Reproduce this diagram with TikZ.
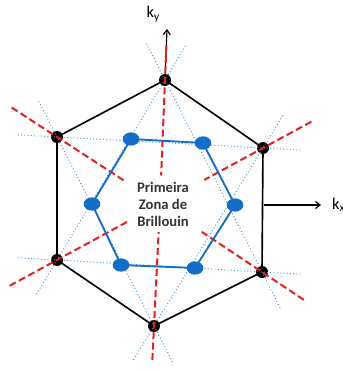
\documentclass[tikz,border=0pt]{standalone}
\usepackage{fontspec}
\setmainfont{Carlito}
\usetikzlibrary{shapes.geometric, arrows.meta, calc}

\definecolor{zoneblue}{RGB}{20,110,200}
\definecolor{dotblue}{RGB}{70,150,205}
\definecolor{cutred}{RGB}{230,30,30}

\begin{document}
\begin{tikzpicture}[
    x=0.03cm, y=-0.03cm,
    vtx/.style={circle, fill=black, inner sep=0pt, minimum size=0.36cm},
    bz/.style={ellipse, fill=zoneblue, inner sep=0pt, minimum width=0.5cm, minimum height=0.4cm},
    edge/.style={line width=1.4pt},
    plane/.style={dotblue, line width=0.8pt, dotted},
    cut/.style={cutred, line width=1.7pt, dash pattern=on 6pt off 3pt},
    axis/.style={line width=1pt, -{Straight Barb[length=4pt, width=6pt]}},
    lbl/.style={font=\fontsize{14}{16}\selectfont}
]
    \useasboundingbox (0,0) rectangle (343,371);
    \coordinate (O) at (160,204);

    % outer hexagon (reciprocal lattice points)
    \node[vtx] (T) at (165,80) {};
    \node[vtx] (UL) at (57,137) {};
    \node[vtx] (UR) at (263,148) {};
    \node[vtx] (LL) at (57,260) {};
    \node[vtx] (LR) at (262,272) {};
    \node[vtx] (B) at (154,326) {};
    \draw[edge] (T.center) -- (UL.center) -- (LL.center) -- (B.center) -- (LR.center) -- (UR.center) -- cycle;

    % axes
    \draw[axis] (T.center) -- ++(2,-51) coordinate (kytip);
    \node[lbl, anchor=south east] (ky) at ($(kytip)+(-3,-3)$) {k\textsubscript{y}};
    \draw[axis] (264,205) coordinate (kxbase) -- (321,205) coordinate (kxtip);
    \node[lbl, anchor=west] (kx) at ($(kxtip)+(7,0)$) {k\textsubscript{x}};

    % Bragg planes
    \foreach \a/\b in {T/LL, T/LR, LL/LR, B/UL, B/UR, UL/UR}
        \draw[plane] ($(\a)!-0.19!(\b)$) -- ($(\b)!-0.19!(\a)$);

    % reciprocal vectors
    \foreach \v/\p/\q in {T/0.28/0.77, B/0.28/0.77, UL/0.44/0.65, UR/0.47/0.57, LL/0.46/0.68, LR/0.41/0.59}
        \draw[cut] ($(\v.center)!-\p!(O)$) -- ($(\v.center)!\q!(O)$);

    % first zone
    \node[bz] (z1) at (131,139) {};
    \node[bz] (z2) at (203,143) {};
    \node[bz] (z3) at (235,205) {};
    \node[bz] (z4) at (195,268) {};
    \node[bz] (z5) at (121,265) {};
    \node[bz] (z6) at (92,204) {};
    \draw[zoneblue, line width=1.6pt] (z1.center) -- (z2.center) -- (z3.center) -- (z4.center) -- (z5.center) -- (z6.center) -- cycle;

    \node[align=center, font=\bfseries\fontsize{12.5}{14.5}\selectfont, text=black!80] (bzname) at (163,204) {Primeira\\Zona de\\Brillouin};
\end{tikzpicture}
\end{document}
